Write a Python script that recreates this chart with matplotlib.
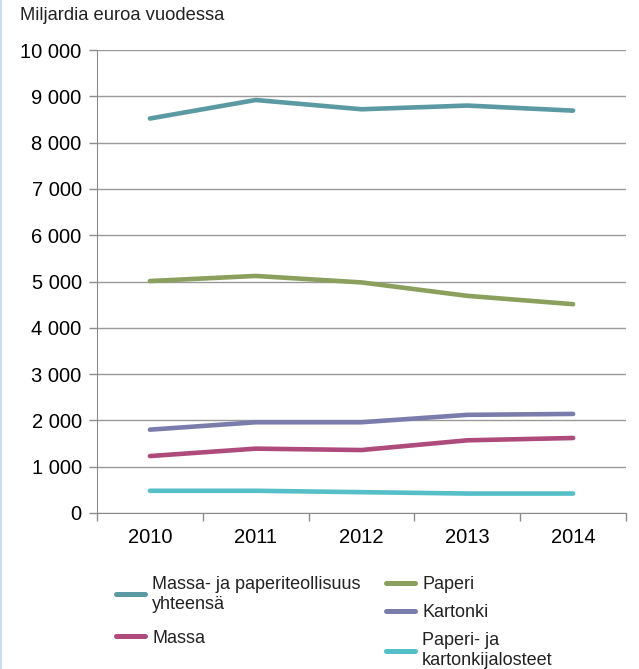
#!/usr/bin/env python
import numpy as np
import matplotlib
matplotlib.use('Agg')
import matplotlib.pyplot as plt
from matplotlib.lines import Line2D

years = ['2010', '2011', '2012', '2013', '2014']
yhteensa = [8520, 8920, 8720, 8800, 8690]
paperi = [5010, 5120, 4980, 4690, 4510]
kartonki = [1800, 1960, 1960, 2120, 2140]
massa = [1230, 1390, 1360, 1570, 1620]
jalosteet = [480, 480, 450, 420, 420]

labels = ['Massa- ja paperiteollisuus\nyhteensä', 'Paperi', 'Kartonki', 'Massa',
          'Paperi- ja\nkartonkijalosteet']
colors = ['#5b9aa2', '#8aa05c', '#7a7cac', '#ae4a7c', '#55bfc8']

plt.rcParams['font.family'] = ['Liberation Sans', 'DejaVu Sans']

fig = plt.figure(figsize=(6.39, 6.69), dpi=100)
ax = fig.add_axes([97/639, 1-513/669, (626-97)/639, (513-50)/669])

x = np.arange(len(years))
series = [yhteensa, paperi, kartonki, massa, jalosteet]
handles = []
for vals, lab, col in zip(series, labels, colors):
    h, = ax.plot(x, vals, color=col, lw=3.3, solid_capstyle='round',
                 solid_joinstyle='round', label=lab)
    handles.append(h)

ax.set_xlim(-0.5, len(years) - 0.5)
ax.set_ylim(0, 10000)
ax.set_yticks(np.arange(0, 10001, 1000))
ax.set_yticklabels(['0'] + ['{:,}'.format(v).replace(',', ' ') for v in range(1000, 10001, 1000)])
ax.set_xticks(x)
ax.set_xticklabels(years)
ax.set_xticks(np.arange(-0.5, len(years), 1.0), minor=True)
ax.tick_params(axis='x', which='major', length=0, pad=11, labelsize=14.5)
ax.tick_params(axis='x', which='minor', length=6, color='#8c8c8c', width=1)
ax.tick_params(axis='y', length=6, color='#8c8c8c', width=1, labelsize=14.5, pad=5)
ax.yaxis.grid(True, color='#999999', lw=1)
ax.set_axisbelow(True)
for s in ['top', 'right']:
    ax.spines[s].set_visible(False)
for s in ['left', 'bottom']:
    ax.spines[s].set_color('#8c8c8c')

fig.text(20/639, 1-16/669, 'Miljardia euroa vuodessa', fontsize=13.2,
         ha='left', va='center', color='#222222')

# legend in two columns, drawn as two separate legends
leg_kw = dict(frameon=False, fontsize=13, handlelength=1.6, handletextpad=0.4,
              borderaxespad=0, borderpad=0)
leg1 = fig.legend([handles[0], handles[3]], [labels[0], labels[3]],
                  loc='upper left', bbox_to_anchor=(116/639, 1-576/669),
                  labelspacing=0.95, **leg_kw)
leg2 = fig.legend([handles[1], handles[2], handles[4]], [labels[1], labels[2], labels[4]],
                  loc='upper left', bbox_to_anchor=(386/639, 1-576/669),
                  labelspacing=0.62, **leg_kw)
for leg in (leg1, leg2):
    for ln in leg.get_lines():
        ln.set_linewidth(3.6)
    for t in leg.get_texts():
        t.set_linespacing(1.2)
        t.set_color('#222222')

fig.add_artist(Line2D([0.001, 0.001], [0, 1], color='#c8dff0', lw=1.5,
                      transform=fig.transFigure))

fig.savefig('out.png', dpi=100)
